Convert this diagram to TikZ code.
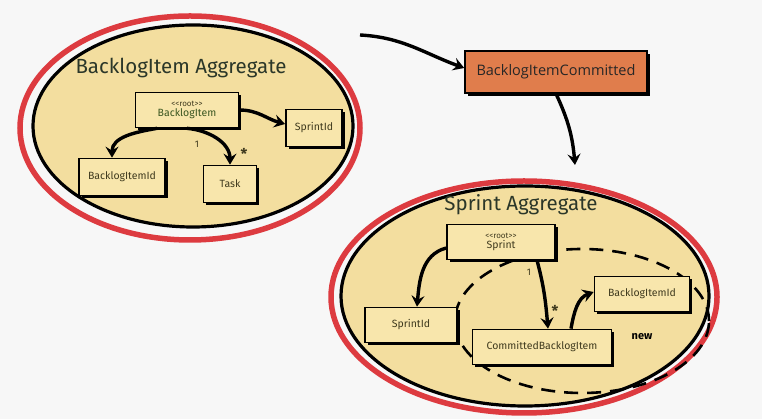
\documentclass[tikz,border=0pt]{standalone}
\usepackage{fontspec}
\setmainfont{Fira Sans}
\newfontfamily\eventfont{Open Sans}
\usetikzlibrary{arrows.meta,shadows}
\definecolor{bgcol}{HTML}{F7F7F7}
\definecolor{aggfill}{HTML}{F3DE9F}
\definecolor{boxfill}{HTML}{F8E6AC}
\definecolor{aggred}{HTML}{DD3B40}
\definecolor{evfill}{HTML}{E07D4C}
\definecolor{txtcol}{HTML}{3F3A1E}
\definecolor{titlecol}{HTML}{2B3729}
\definecolor{rootcol}{HTML}{3A5620}

\begin{document}
\begin{tikzpicture}[x=1pt,y=1pt,>={Stealth[length=11pt,width=13pt,inset=4pt]}]
      \tikzstyle{entity}=[draw,line width=1.7pt,fill=boxfill,text=txtcol,font=\fontsize{10.5}{12}\selectfont,
        inner sep=1pt,drop shadow={shadow xshift=2.5pt,shadow yshift=-2.5pt,fill=black,opacity=1}]
      \tikzstyle{event}=[draw,line width=1.5pt,fill=evfill,text=black!85,font=\eventfont\fontsize{14.5}{16}\selectfont,
        drop shadow={shadow xshift=3pt,shadow yshift=-3pt,fill=black,opacity=1}]
      \tikzstyle{aggtitle}=[text=titlecol,font=\fontsize{20.5}{24}\selectfont]
      \tikzstyle{mult}=[text=txtcol,font=\bfseries\fontsize{10}{12}\selectfont]
      \tikzstyle{assoc}=[->,line width=3.4pt]
      \fill[bgcol] (0,0) rectangle (762,419);
      \useasboundingbox (0,0) rectangle (762,419);
      % BacklogItem aggregate
      \draw[aggred,line width=5.5pt] (190,291) ellipse [x radius=170, y radius=112];
      \draw[line width=3.2pt,fill=aggfill] (193,293) ellipse [x radius=160, y radius=101];
      \node[aggtitle] (biTitle) at (181,351) {BacklogItem Aggregate};
      \node[entity,minimum width=103,minimum height=35,align=center] (biRoot) at (187,309)
        {{\fontsize{8}{8}\selectfont{<}{<}root{>}{>}}\\[-1.5pt]\textcolor{rootcol}{BacklogItem}};
      \node[entity,minimum width=56,minimum height=37] (biSprintId) at (314,291) {SprintId};
      \node[entity,minimum width=86,minimum height=37] (biItemId) at (122,242) {BacklogItemId};
      \node[entity,minimum width=53,minimum height=37] (biTask) at (230,235) {Task};
      \draw[assoc] (biRoot.east) to[out=0,in=165] ([yshift=4]biSprintId.west);
      \draw[assoc] ([xshift=-30]biRoot.south) to[out=190,in=90] ([xshift=-10]biItemId.north);
      \draw[assoc] (biRoot.south) to[out=-5,in=90] (biTask.north);
      \node[mult,font=\fontsize{9.5}{10}\selectfont] (biOne) at (197,275) {1};
      \node[mult,font=\bfseries\fontsize{15}{15}\selectfont] (biMany) at (244,265) {*};
      % domain event
      \coordinate (evSrc) at (360,384);
      \node[event,minimum width=182,minimum height=42] (evCommitted) at (556,347) {BacklogItemCommitted};
      \draw[assoc] (evSrc) to[out=-3,in=160] ([yshift=4]evCommitted.west);
      \coordinate (evDst) at (575,254);
      \draw[assoc] (evCommitted.south) to[out=-65,in=95] (evDst);
      % Sprint aggregate
      \draw[aggred,line width=5.5pt] (524,122) ellipse [x radius=193, y radius=116];
      \draw[line width=3.2pt,fill=aggfill] (525,123) ellipse [x radius=184, y radius=110];
      \draw[dashed,dash pattern=on 14pt off 9pt,line width=2.6pt] (582,98) ellipse [x radius=127, y radius=72];
      \node[aggtitle] (spTitle) at (521,214) {Sprint Aggregate};
      \node[entity,minimum width=108,minimum height=35,align=center] (spRoot) at (501,177)
        {{\fontsize{8}{8}\selectfont{<}{<}root{>}{>}}\\[-1.5pt]Sprint};
      \node[entity,minimum width=92,minimum height=35] (spSprintId) at (411,94) {SprintId};
      \node[entity,minimum width=139,minimum height=35] (spCommitted) at (542,72) {CommittedBacklogItem};
      \node[entity,minimum width=95,minimum height=35] (spItemId) at (642,125) {BacklogItemId};
      \draw[assoc] ([yshift=-6]spRoot.west) to[out=195,in=85] ([xshift=6]spSprintId.north);
      \draw[assoc] ([xshift=36]spRoot.south) to[out=-75,in=95] ([xshift=6]spCommitted.north);
      \draw[assoc] ([xshift=29]spCommitted.north) to[out=80,in=200] ([yshift=2]spItemId.west);
      \node[mult,font=\fontsize{9.5}{10}\selectfont] (spOne) at (529,147) {1};
      \node[mult,font=\bfseries\fontsize{15}{15}\selectfont] (spMany) at (555,108) {*};
      \node[mult,text=black,font=\bfseries\fontsize{11}{12}\selectfont] (spNew) at (642,82) {new};
      % \noindent
\end{tikzpicture}
\end{document}
